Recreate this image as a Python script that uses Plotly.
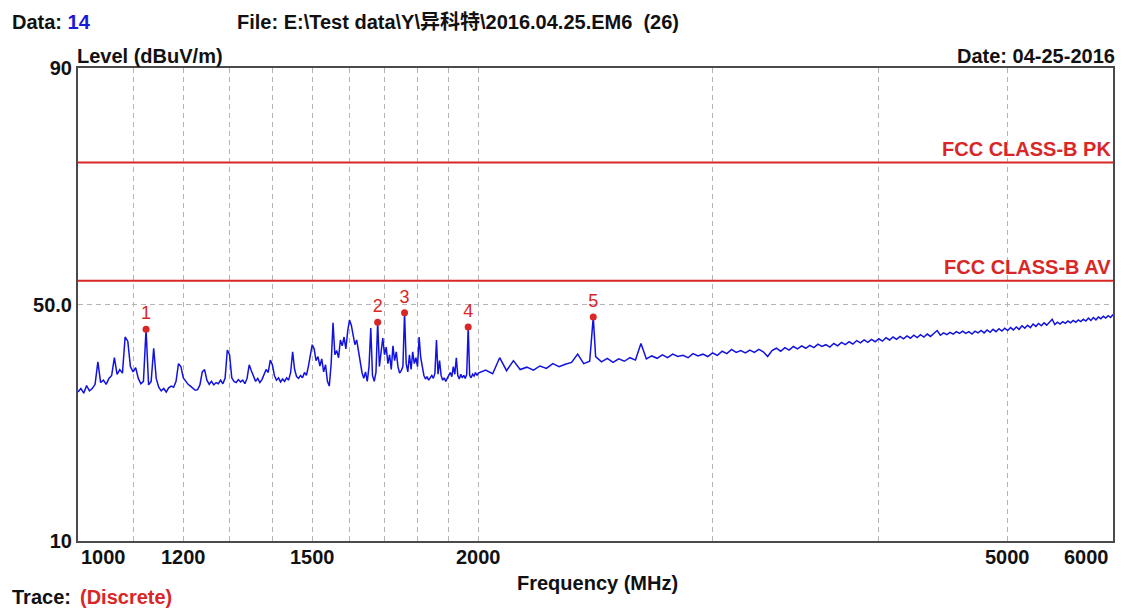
import plotly.graph_objects as go
import math

# ---------------- data ----------------
freq_low = [
    1000, 1005, 1010, 1015, 1020, 1025, 1030, 1035, 1040, 1045,
    1050, 1055, 1060, 1065, 1070, 1075, 1080, 1085, 1090, 1095,
    1100, 1105, 1110, 1115, 1120, 1125, 1130, 1135, 1140, 1145,
    1150, 1155, 1160, 1165, 1170, 1175, 1180, 1185, 1190, 1195,
    1200, 1205, 1210, 1215, 1220, 1225, 1230, 1235, 1240, 1245,
    1250, 1255, 1260, 1265, 1270, 1275, 1280, 1285, 1290, 1295,
    1300, 1305, 1310, 1315, 1320, 1325, 1330, 1335, 1340, 1345,
    1350, 1355, 1360, 1365, 1370, 1375, 1380, 1385, 1390, 1395,
    1400, 1405, 1410, 1415, 1420, 1425, 1430, 1435, 1440, 1445,
    1450, 1455, 1460, 1465, 1470, 1475, 1480, 1485, 1490, 1495,
    1500, 1505, 1510, 1515, 1520, 1525, 1530, 1535, 1540, 1545,
    1550, 1555, 1560, 1565, 1570, 1575, 1580, 1585, 1590, 1595,
    1600, 1605, 1610, 1615, 1620, 1625, 1630, 1635, 1640, 1645,
    1650, 1655, 1660, 1665, 1670, 1675, 1680, 1685, 1690, 1695,
    1700, 1705, 1710, 1715, 1720, 1725, 1730, 1735, 1740, 1745,
    1750, 1755, 1760, 1765, 1770, 1775, 1780, 1785, 1790, 1795,
    1800, 1805, 1810, 1815, 1820, 1825, 1830, 1835, 1840, 1845,
    1850, 1855, 1860, 1865, 1870, 1875, 1880, 1885, 1890, 1895,
    1900, 1905, 1910, 1915, 1920, 1925, 1930, 1935, 1940, 1945,
    1950, 1955, 1960, 1965, 1970, 1975, 1980, 1985, 1990, 1995,
]
level_low = [
    35.2, 35.8, 35.0, 36.3, 35.4, 35.8, 36.5, 40.3, 36.8, 37.2,
    36.5, 37.5, 38.0, 41.0, 38.2, 39.0, 38.4, 44.5, 43.8, 39.5,
    38.6, 39.3, 37.5, 36.6, 37.0, 45.8, 36.4, 37.0, 42.6, 37.5,
    36.0, 35.4, 35.8, 35.2, 35.9, 36.2, 36.0, 37.0, 40.0, 39.5,
    37.6, 37.0, 36.5, 36.2, 35.8, 35.5, 35.6, 36.4, 38.6, 39.0,
    37.2, 36.5, 37.0, 36.4, 36.8, 36.6, 37.2, 36.6, 37.5, 42.3,
    41.5, 37.6, 37.0, 36.8, 37.3, 36.9, 37.2, 36.6, 37.5, 39.8,
    38.8, 38.0, 37.0, 37.5, 36.8, 37.3, 38.2, 39.0, 38.5, 40.6,
    39.8, 38.0, 37.2, 37.6, 36.9, 37.4, 37.0, 37.6, 37.2, 38.5,
    42.0, 39.0, 37.8, 37.5, 38.0, 37.6, 38.5, 38.0, 39.5, 41.5,
    43.2, 42.5, 40.5, 41.2, 39.6, 40.8, 38.6, 39.8, 37.0, 36.2,
    40.0, 46.9, 41.5, 42.2, 41.0, 44.0, 43.0, 44.5, 42.5, 45.5,
    47.4, 46.5, 45.0, 43.2, 44.0, 42.0, 40.5, 38.5, 37.5, 38.6,
    37.0, 39.5, 46.0, 38.0, 37.0, 38.5, 47.0, 39.5, 42.0, 44.3,
    41.5, 42.8, 40.0, 41.5, 39.0, 43.0, 40.5, 42.0, 39.5, 38.4,
    38.8, 39.5, 48.6, 40.0, 38.6, 41.5, 39.0, 42.0, 40.0, 41.0,
    39.5, 44.5, 41.0, 39.5, 38.0, 37.4, 37.8, 37.2, 37.6, 38.0,
    37.5, 38.4, 44.0, 38.2, 40.5, 38.0, 37.2, 37.6, 37.0, 37.4,
    38.0, 38.5, 37.8, 39.5, 38.2, 41.0, 38.0, 37.4, 38.2, 37.6,
    38.0, 37.5, 38.2, 46.2, 38.0, 37.6, 38.2, 37.9, 38.5, 38.0,
]
freq_high = [
    2000, 2025, 2050, 2075, 2100, 2125, 2150, 2175, 2200, 2225,
    2250, 2275, 2300, 2325, 2350, 2375, 2400, 2425, 2440, 2450,
    2475, 2500, 2525, 2550, 2575, 2600, 2625, 2650, 2675, 2700,
    2725, 2750, 2775, 2800, 2825, 2850, 2875, 2900, 2925, 2950,
    2975, 3000, 3025, 3050, 3075, 3100, 3125, 3150, 3175, 3200,
    3225, 3250, 3275, 3300, 3325, 3350, 3375, 3400, 3425, 3450,
    3475, 3500, 3525, 3550, 3575, 3600, 3625, 3650, 3675, 3700,
    3725, 3750, 3775, 3800, 3825, 3850, 3875, 3900, 3925, 3950,
    3975, 4000, 4025, 4050, 4075, 4100, 4125, 4150, 4175, 4200,
    4225, 4250, 4275, 4300, 4325, 4350, 4375, 4400, 4425, 4450,
    4475, 4500, 4525, 4550, 4575, 4600, 4625, 4650, 4675, 4700,
    4725, 4750, 4775, 4800, 4825, 4850, 4875, 4900, 4925, 4950,
    4975, 5000, 5025, 5050, 5075, 5100, 5125, 5150, 5175, 5200,
    5225, 5250, 5275, 5300, 5325, 5350, 5375, 5400, 5425, 5450,
    5475, 5500, 5525, 5550, 5575, 5600, 5625, 5650, 5675, 5700,
    5725, 5750, 5775, 5800, 5825, 5850, 5875, 5900, 5925, 5950,
    5975, 6000,
]
level_high = [
    38.4, 38.9, 38.3, 41.0, 38.8, 40.5, 39.0, 39.4, 38.9, 39.6,
    39.2, 40.0, 39.5, 39.9, 40.2, 41.6, 40.0, 40.4, 47.9, 41.2,
    40.3, 40.9, 40.2, 40.8, 40.4, 41.0, 40.6, 43.4, 40.8, 41.3,
    40.9, 41.5, 41.0, 41.6, 41.2, 41.4, 41.0, 41.7, 41.3, 41.6,
    41.2, 41.8, 41.4, 42.1, 41.7, 42.4, 41.9, 42.2, 41.8, 42.3,
    41.9, 42.4, 42.0, 41.2, 42.2, 42.6, 42.1, 42.7, 42.3, 42.9,
    42.5, 43.0, 42.6, 43.1, 42.7, 43.3, 42.9, 43.2, 42.8, 43.4,
    43.0, 43.6, 43.2, 43.7, 43.3, 43.9, 43.5, 44.0, 43.6, 44.1,
    43.7, 44.2, 43.8, 44.4, 44.0, 44.5, 44.1, 44.6, 44.2, 44.7,
    44.3, 44.8, 44.4, 44.9, 44.5, 45.0, 44.6, 45.1, 45.6, 44.8,
    45.2, 44.9, 45.3, 45.0, 45.4, 45.1, 45.5, 45.1, 45.4, 45.0,
    45.5, 45.2, 45.6, 45.2, 45.7, 45.3, 45.8, 45.4, 45.9, 45.5,
    46.0, 45.6, 46.1, 45.7, 46.2, 45.8, 46.4, 46.0, 46.5, 46.1,
    46.7, 46.3, 46.8, 46.4, 46.9, 46.5, 47.0, 47.5, 46.6, 47.0,
    46.7, 47.1, 46.8, 47.2, 46.9, 47.3, 47.0, 47.4, 47.1, 47.5,
    47.2, 47.7, 47.3, 47.8, 47.4, 47.9, 47.6, 48.0, 47.7, 48.1,
    47.8, 48.3,
]

marker_labels = ["1", "2", "3", "4", "5"]
marker_freq = [1125, 1680, 1760, 1965, 2440]
marker_level = [45.8, 47.0, 48.6, 46.2, 47.9]

limit_names = ["FCC CLASS-B PK", "FCC CLASS-B AV"]
limit_levels = [74, 54]

x_tick_vals = [1000, 1200, 1500, 2000, 5000, 6000]
x_tick_text = ["1000", "1200", "1500", "2000", "5000", "6000"]
x_minor_vals = [1100, 1300, 1400, 1600, 1700, 1800, 1900, 3000, 4000]
y_tick_vals = [10, 50, 90]
y_tick_text = ["10", "50.0", "90"]

# ---------------- style ----------------
FONT = "Liberation Sans, Arial, Noto Sans CJK SC, sans-serif"
FS = 20
RED = "#d92626"
BLUE = "#1212e0"
GRID = "#b4b4b4"

# page body has an 8px default margin, so the figure is 8px smaller
PAGE_OFF = 8
PLOT_L, PLOT_T, PLOT_W, PLOT_H = 78, 68, 1035, 473

freq = freq_low + freq_high
level = level_low + level_high

fig = go.Figure()

for name, lv in zip(limit_names, limit_levels):
    fig.add_trace(go.Scatter(x=[x_tick_vals[0], x_tick_vals[-1]], y=[lv, lv], mode="lines",
                             line=dict(color=RED, width=2), hoverinfo="skip", name=name))

fig.add_trace(go.Scatter(x=freq, y=level, mode="lines", line=dict(color=BLUE, width=1.5), name="trace"))

fig.add_trace(go.Scatter(x=marker_freq, y=marker_level, mode="markers+text", text=marker_labels,
                         textposition="top center",
                         textfont=dict(family=FONT, size=18, color=RED),
                         marker=dict(color=RED, size=7), name="markers"))

W, H = 1139 - PAGE_OFF, 610 - PAGE_OFF
fig.update_layout(
    width=W, height=H,
    margin=dict(l=PLOT_L - PAGE_OFF, r=W - (PLOT_L - PAGE_OFF) - PLOT_W,
                t=PLOT_T - PAGE_OFF, b=H - (PLOT_T - PAGE_OFF) - PLOT_H),
    paper_bgcolor="white", plot_bgcolor="white",
    showlegend=False,
    font=dict(family=FONT, size=FS, color="#111111"),
)

fig.update_xaxes(
    type="log", range=[math.log10(1000), math.log10(6000)],
    tickvals=x_tick_vals, showticklabels=False, ticks="",
    showgrid=True, gridcolor=GRID, griddash="5px,4px", gridwidth=1,
    minor=dict(tickvals=x_minor_vals, showgrid=True, gridcolor=GRID, griddash="5px,4px", gridwidth=1, ticks=""),
    showline=True, linecolor="#4a4a4a", linewidth=2, mirror=True, zeroline=False,
)
fig.update_yaxes(
    range=[10, 90], tickvals=y_tick_vals, ticktext=y_tick_text, ticks="",
    tickfont=dict(family=FONT, size=FS, color="#111111", weight="bold"),
    showgrid=True, gridcolor=GRID, griddash="5px,4px", gridwidth=1,
    showline=True, linecolor="#4a4a4a", linewidth=2, mirror=True, zeroline=False,
)

# x tick labels
for v, t in zip(x_tick_vals, x_tick_text):
    anchor = "center"
    shift = 0
    if v == x_tick_vals[0]:
        anchor, shift = "left", 1
    elif v == x_tick_vals[-1]:
        anchor, shift = "right", -2
    fig.add_annotation(x=math.log10(v), y=-0.034, xref="x", yref="paper", text=f"<b>{t}</b>",
                       showarrow=False, xanchor=anchor, yanchor="middle", xshift=shift,
                       font=dict(family=FONT, size=FS, color="#111111"))

# limit labels
for name, lv in zip(limit_names, limit_levels):
    fig.add_annotation(x=1, y=lv, xref="paper", yref="y", text=f"<b>{name}</b>", showarrow=False,
                       xanchor="right", yanchor="bottom", yshift=1,
                       font=dict(family=FONT, size=FS, color=RED))

def ann(text, px, py, xanchor="left", color="#111111", yanchor="middle"):
    fig.add_annotation(x=(px - PLOT_L) / PLOT_W, y=(PLOT_T + PLOT_H - py) / PLOT_H,
                       xref="paper", yref="paper",
                       text=text, showarrow=False, xanchor=xanchor, yanchor=yanchor,
                       font=dict(family=FONT, size=FS, color=color))

TOP = PAGE_OFF + 1  # keep header text fully inside the figure
ann("<b>Data:</b> <b><span style='color:#1a1ad8'>14</span></b>", 10, TOP, yanchor="top")
ann("<b>File: E:\\Test data\\Y\\异科特\\2016.04.25.EM6 &nbsp;(26)</b>", 235, TOP, yanchor="top")
ann("<b>Level (dBuV/m)</b>", 75, 56)
ann("<b>Date: 04-25-2016</b>", 1117, 56, xanchor="right")
ann("<b>Frequency (MHz)</b>", 597, 583, xanchor="center")
ann("<b>Trace:</b>", 10, 597)
ann("<b>(Discrete)</b>", 78, 597, color=RED)

fig.write_html("out.html")
